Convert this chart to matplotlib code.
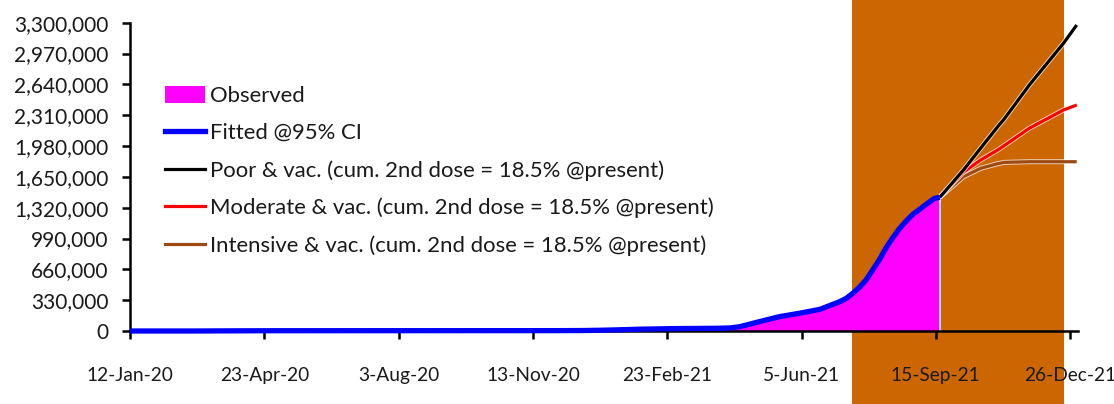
import matplotlib
matplotlib.use('Agg')
import matplotlib.pyplot as plt
import matplotlib.dates as mdates
import matplotlib.patheffects as pe
from matplotlib.patches import Patch
from matplotlib.lines import Line2D
from matplotlib.ticker import FuncFormatter
import pandas as pd

plt.rcParams['font.family'] = ['Lato', 'DejaVu Sans']

# ---------------- data ----------------
obs_dates = ['2020-01-12', '2020-03-01', '2020-04-01', '2020-05-01', '2020-12-01',
             '2020-12-20', '2021-01-01', '2021-01-15', '2021-02-01', '2021-03-01',
             '2021-04-01', '2021-04-12', '2021-04-19', '2021-05-04', '2021-05-19',
             '2021-06-03', '2021-06-19', '2021-07-04', '2021-07-09', '2021-07-14',
             '2021-07-19', '2021-07-24', '2021-07-29', '2021-08-03', '2021-08-08',
             '2021-08-13', '2021-08-18', '2021-08-23', '2021-08-28', '2021-09-02',
             '2021-09-07', '2021-09-14', '2021-09-18']
observed_cases = [0, 40, 1800, 2950, 4000,
                  5000, 7400, 12000, 19000, 26000,
                  29000, 33000, 46000, 100000, 153000,
                  189000, 232000, 314000, 350000, 404000,
                  468000, 546000, 653000, 760000, 885000,
                  992000, 1089000, 1170000, 1242000, 1295000,
                  1349000, 1420000, 1431000]
fitted_cases = [0, 40, 1800, 2950, 4000,
                5000, 7400, 12000, 19000, 26000,
                29000, 33000, 46000, 100000, 153000,
                189000, 232000, 314000, 350000, 404000,
                468000, 546000, 653000, 760000, 885000,
                992000, 1089000, 1170000, 1242000, 1295000,
                1349000, 1420000, 1431000]

scen_dates = ['2021-09-18', '2021-10-06', '2021-10-19', '2021-11-01', '2021-11-06',
              '2021-11-25', '2021-12-21', '2021-12-31']
poor_vac = [1431000, 1723000, 1956000, 2187000, 2270000, 2633000, 3080000, 3275000]
moderate_vac = [1431000, 1700000, 1830000, 1937000, 1985000, 2170000, 2366000, 2419000]
intensive_vac = [1431000, 1652000, 1741000, 1791000, 1805000, 1812000, 1812000, 1812000]

shade_start, shade_end = '2021-07-13', '2021-12-21'

tick_dates = ['2020-01-12', '2020-04-23', '2020-08-03', '2020-11-13',
              '2021-02-23', '2021-06-05', '2021-09-15', '2021-12-26']
tick_labels = ['12-Jan-20', '23-Apr-20', '3-Aug-20', '13-Nov-20',
               '23-Feb-21', '5-Jun-21', '15-Sep-21', '26-Dec-21']
y_ticks = [0, 330000, 660000, 990000, 1320000, 1650000, 1980000,
           2310000, 2640000, 2970000, 3300000]

labels = ['Observed', 'Fitted @95% CI',
          'Poor & vac. (cum. 2nd dose = 18.5% @present)',
          'Moderate & vac. (cum. 2nd dose = 18.5% @present)',
          'Intensive & vac. (cum. 2nd dose = 18.5% @present)']

# ---------------- plot ----------------
C_MAG = '#FF00FF'
C_BLUE = '#0000FF'
C_BLACK = '#000000'
C_RED = '#FF0000'
C_BROWN = '#9C4A12'
C_SHADE = '#CC6600'
TXT = '#1a1a1a'

fig = plt.figure(figsize=(11.14, 4.04), dpi=100)
ax = fig.add_axes([130 / 1114, 1 - 331 / 404, 948 / 1114, 308.3 / 404])

od = pd.to_datetime(obs_dates)
sd = pd.to_datetime(scen_dates)

# shaded forecast period spanning the full figure height
ax.axvspan(pd.Timestamp(shade_start), pd.Timestamp(shade_end), ymin=-0.26, ymax=1.09,
           color=C_SHADE, lw=0, zorder=0, clip_on=False)

# observed area
ax.fill_between(od, 0, observed_cases, color=C_MAG, lw=0, zorder=1)
ax.vlines(od[-1], 0, observed_cases[-1], color='white', lw=1.2, zorder=1.5)

glow = [pe.Stroke(linewidth=3.6, foreground='white', alpha=0.75), pe.Normal()]
ax.plot(sd, intensive_vac, color=C_BROWN, lw=2.3, zorder=2, path_effects=glow,
        solid_capstyle='butt')
ax.plot(sd, moderate_vac, color=C_RED, lw=2.3, zorder=2.1, path_effects=glow,
        solid_capstyle='butt')
ax.plot(sd, poor_vac, color=C_BLACK, lw=2.3, zorder=2.2, path_effects=glow,
        solid_capstyle='butt')

ax.plot(od, fitted_cases, color=C_BLUE, lw=3.8, zorder=4, clip_on=False,
        solid_capstyle='butt')

# axes styling
ax.set_xlim(pd.Timestamp('2020-01-12'), pd.Timestamp('2022-01-01'))
ax.set_ylim(0, 3300000)
for s in ['top', 'right']:
    ax.spines[s].set_visible(False)
for s in ['left', 'bottom']:
    ax.spines[s].set_linewidth(1.8)
    ax.spines[s].set_color('black')
    ax.spines[s].set_zorder(3)

ax.set_yticks(y_ticks)
ax.yaxis.set_major_formatter(FuncFormatter(lambda v, p: f'{v:,.0f}'))
ax.set_xticks(pd.to_datetime(tick_dates))
ax.set_xticklabels(tick_labels)
ax.tick_params(axis='y', direction='out', length=5.5, width=1.8, pad=10,
               labelsize=15, labelcolor=TXT, color='black')
ax.tick_params(axis='x', direction='out', length=6, width=1.8, pad=20,
               labelsize=13.8, labelcolor=TXT, color='black')

handles = [Patch(facecolor=C_MAG, edgecolor='none'),
           Line2D([], [], color=C_BLUE, lw=3.8),
           Line2D([], [], color=C_BLACK, lw=2.3),
           Line2D([], [], color=C_RED, lw=2.3),
           Line2D([], [], color=C_BROWN, lw=2.3)]
leg = ax.legend(handles, labels, loc='upper left', bbox_to_anchor=(0.0369, 0.795),
                frameon=False, borderpad=0, borderaxespad=0, fontsize=15.9,
                handlelength=1.82, handleheight=0.8, handletextpad=0.24,
                labelspacing=0.77)
for t in leg.get_texts():
    t.set_color(TXT)

fig.savefig('out.png', dpi=100)
